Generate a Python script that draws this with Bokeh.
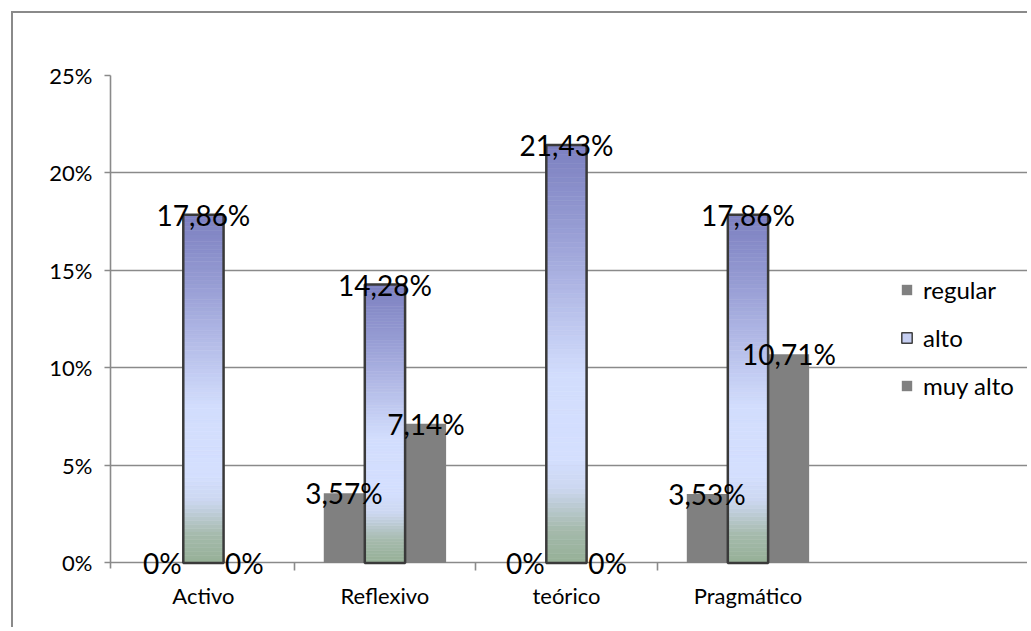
import numpy as np
from bokeh.plotting import figure
from bokeh.models import (FixedTicker, Label, Legend, LegendItem, Range1d)
from bokeh.embed import file_html
from bokeh.resources import INLINE

# ---- data ----
categories = ["Activo", "Reflexivo", "teórico", "Pragmático"]
series_names = ["regular", "alto", "muy alto"]
regular = [0.0, 3.57, 0.0, 3.53]
alto = [17.86, 14.28, 21.43, 17.86]
muy_alto = [0.0, 7.14, 0.0, 10.71]
y_ticks = [0, 5, 10, 15, 20, 25]
y_tick_labels = ["0%", "5%", "10%", "15%", "20%", "25%"]


def pct(v):
    return "0%" if v == 0 else f"{v:.2f}".replace(".", ",") + "%"


FONT = "Lato"
GRID = "#8a8a8a"
GRAY = "#808080"
OFF = 0.226
BW = 0.222
X0, X1 = -0.512, 3.466          # extent of the chart area along x

xs = np.arange(len(categories), dtype=float)

p = figure(width=1016, height=616,
           x_range=Range1d(X0, 4.54), y_range=Range1d(-0.9, 25),
           output_backend="svg", toolbar_location=None,
           min_border_left=97, min_border_right=2,
           min_border_top=62, min_border_bottom=49,
           styles={"margin-left": "11px", "margin-top": "11px",
                   "border-top": "2px solid #8a8a8a",
                   "border-left": "2px solid #8a8a8a"})
p.outline_line_color = None
p.background_fill_color = "white"
p.border_fill_color = "white"

# grid (the 0 line is the floor line)
p.xgrid.visible = False
p.ygrid.ticker = FixedTicker(ticks=y_ticks)
p.ygrid.grid_line_color = GRID
p.ygrid.grid_line_width = 1.6
p.ygrid.bounds = (X0, X1)

# y axis
p.yaxis.ticker = FixedTicker(ticks=y_ticks)
p.yaxis.bounds = (-0.3, 25.3)
p.yaxis.major_label_overrides = {t: l for t, l in zip(y_ticks, y_tick_labels)}
p.yaxis.major_label_text_font = FONT
p.yaxis.major_label_text_font_size = "22px"
p.yaxis.major_label_text_color = "black"
p.yaxis.axis_line_color = GRID
p.yaxis.axis_line_width = 1.6
p.yaxis.major_tick_line_color = GRID
p.yaxis.major_tick_line_width = 1.6
p.yaxis.major_tick_out = 6
p.yaxis.major_tick_in = 0
p.yaxis.minor_tick_line_color = None
p.yaxis.major_label_standoff = 12

# x axis: categories below, separator ticks hanging from the 0 line
p.xaxis.ticker = FixedTicker(ticks=list(xs), minor_ticks=list(xs[:-1] + 0.5))
p.xaxis.major_label_overrides = {int(i): c for i, c in enumerate(categories)}
p.xaxis.major_label_text_font = FONT
p.xaxis.major_label_text_font_size = "22px"
p.xaxis.major_label_text_color = "black"
p.xaxis.axis_line_color = None
p.xaxis.major_tick_out = 0
p.xaxis.major_tick_in = 0
p.xaxis.minor_tick_line_color = GRID
p.xaxis.minor_tick_line_width = 1.6
p.xaxis.minor_tick_in = 18
p.xaxis.minor_tick_out = -10
p.xaxis.major_label_standoff = 1

# regular + muy alto bars
r_reg = p.vbar(x=xs - OFF, top=regular, width=BW, fill_color=GRAY, line_color=None)
r_muy = p.vbar(x=xs + OFF, top=muy_alto, width=BW, fill_color=GRAY, line_color=None)

# alto bars: vertical gradient made of thin slices
stops_t = [0.0, 0.08, 0.18, 0.25, 0.45, 0.62, 0.80, 1.0]
stops_c = [(150, 176, 150), (165, 186, 172), (204, 215, 240), (212, 223, 254),
           (210, 221, 253), (182, 190, 233), (151, 157, 212), (124, 128, 192)]
N = 90
gl, gr, gb, gt, gc = [], [], [], [], []
for i, v in enumerate(alto):
    for k in range(N):
        t = (k + 0.5) / N
        rgb = [int(round(np.interp(t, stops_t, [c[j] for c in stops_c]))) for j in range(3)]
        gl.append(xs[i] - BW / 2)
        gr.append(xs[i] + BW / 2)
        gb.append(v * k / N)
        gt.append(v * (k + 1) / N)
        gc.append("#%02x%02x%02x" % tuple(rgb))
p.quad(left=gl, right=gr, bottom=gb, top=gt, fill_color=gc, line_color=gc, line_width=0.6)
p.vbar(x=xs, top=alto, width=BW, fill_color=None, line_color="#3a3a3a", line_width=2.5)

# legend proxy for alto
r_alto = p.quad(left=[np.nan], right=[np.nan], bottom=[np.nan], top=[np.nan],
                fill_color="#c6cff2", line_color="#404040", line_width=1.5)

# data labels
for i in range(len(categories)):
    for off, vals in ((-OFF, regular), (0.0, alto), (OFF, muy_alto)):
        p.add_layout(Label(x=xs[i] + off, y=vals[i], text=pct(vals[i]),
                           text_align="center", text_baseline="middle",
                           text_font=FONT, text_font_size="28px",
                           text_color="black"))

legend = Legend(items=[LegendItem(label=series_names[0], renderers=[r_reg]),
                       LegendItem(label=series_names[1], renderers=[r_alto]),
                       LegendItem(label=series_names[2], renderers=[r_muy])],
                location=(790, 180), orientation="vertical",
                padding=0, margin=0, spacing=19,
                glyph_width=13, glyph_height=13, label_height=27,
                label_standoff=10, label_text_font=FONT,
                label_text_font_size="24px", label_text_color="black",
                border_line_color=None, background_fill_alpha=0)
p.add_layout(legend, "center")

open("out.html", "w").write(file_html(p, INLINE))
